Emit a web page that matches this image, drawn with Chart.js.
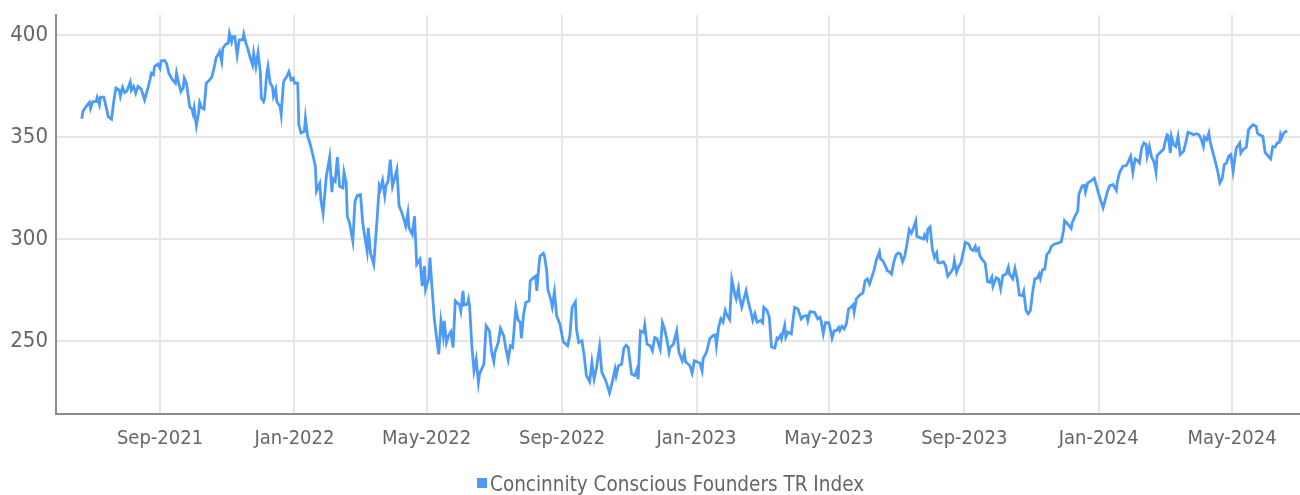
<!DOCTYPE html>
<html>
<head>
<meta charset="utf-8">
<script src="https://cdn.jsdelivr.net/npm/chart.js@4.4.1/dist/chart.umd.min.js"></script>
<style>
  body { margin: 0; background: #fff; }
  #wrap { position: relative; width: 1300px; height: 495px; }
  #legendBox { position: absolute; left: 477px; top: 478px; width: 10px; height: 10px; }
  #legendText { position: absolute; left: 490px; top: 473px; line-height: 22px; font-size: 20.5px; color: #666;
    font-family: 'Liberation Sans Narrow', 'DejaVu Sans Condensed', Roboto, sans-serif; white-space: nowrap; }
</style>
</head>
<body>
<div id="wrap">
  <canvas id="chart" width="1300" height="495"></canvas>
  <span id="legendBox"></span>
  <span id="legendText"></span>
</div>
<script>
//-------------------Data-------------------
const startDate = '2021-06-01'; // day 0 of the dayOffsets below
const seriesName = 'Concinnity Conscious Founders TR Index';

// days since startDate
const dayOffsets = [
  21, 22, 25, 28, 29, 31, 34, 35, 37, 38, 41, 43, 45, 48, 50, 52, 55, 56, 58, 60,
  62, 65, 66, 68, 70, 72, 75, 78, 81, 83, 84, 86, 87, 90, 92, 93, 96, 98, 100, 103,
  106, 107, 109, 111, 113, 114, 116, 119, 121, 122, 123, 125, 127, 128, 130, 132, 134, 137, 139, 141,
  143, 145, 146, 148, 149, 152, 154, 155, 157, 158, 160, 162, 164, 167, 168, 170, 172, 174, 176, 177,
  179, 181, 183, 184, 186, 187, 189, 190, 192, 194, 195, 197, 198, 201, 202, 204, 205, 207, 209, 211,
  213, 214, 217, 218, 220, 223, 224, 226, 228, 231, 233, 234, 237, 238, 240, 243, 246, 248, 249, 251,
  253, 255, 258, 259, 261, 262, 264, 267, 269, 271, 274, 276, 278, 280, 281, 283, 286, 289, 291, 292,
  294, 296, 297, 299, 301, 303, 305, 307, 309, 311, 313, 315, 317, 318, 321, 323, 325, 328, 330, 332,
  333, 336, 337, 339, 341, 343, 345, 347, 349, 350, 352, 354, 356, 358, 360, 364, 365, 367, 368, 371,
  372, 373, 375, 377, 379, 381, 382, 386, 388, 391, 393, 395, 396, 399, 401, 404, 406, 408, 410, 412,
  415, 417, 419, 420, 422, 424, 427, 428, 431, 433, 434, 436, 437, 440, 441, 443, 444, 447, 448, 450,
  452, 455, 458, 462, 464, 466, 469, 470, 472, 475, 477, 479, 482, 484, 486, 488, 491, 493, 496, 498,
  500, 503, 505, 506, 508, 511, 513, 515, 517, 520, 523, 525, 526, 528, 531, 532, 534, 537, 539, 541,
  543, 546, 548, 550, 552, 554, 555, 558, 561, 563, 566, 568, 569, 573, 575, 577, 582, 584, 585, 588,
  591, 594, 596, 597, 599, 601, 603, 605, 606, 609, 611, 614, 615, 617, 618, 620, 622, 624, 626, 628,
  630, 632, 634, 637, 639, 640, 643, 645, 647, 650, 652, 653, 655, 656, 659, 660, 662, 665, 668, 671,
  674, 676, 679, 680, 682, 685, 686, 689, 691, 692, 694, 696, 699, 701, 702, 704, 706, 708, 709, 711,
  713, 715, 717, 719, 721, 722, 724, 727, 730, 732, 734, 736, 738, 740, 742, 745, 746, 748, 751, 752,
  754, 756, 758, 760, 762, 764, 766, 768, 770, 772, 774, 776, 778, 779, 782, 785, 786, 788, 789, 791,
  793, 795, 797, 798, 800, 803, 805, 807, 810, 812, 813, 815, 817, 819, 821, 823, 826, 828, 830, 832,
  833, 835, 836, 838, 841, 843, 845, 847, 848, 851, 853, 855, 857, 860, 862, 863, 866, 868, 870, 872,
  875, 876, 878, 880, 882, 884, 886, 888, 890, 891, 893, 895, 897, 899, 901, 904, 907, 910, 912, 913,
  916, 919, 920, 922, 925, 926, 929, 931, 932, 934, 937, 940, 942, 944, 948, 950, 952, 954, 957, 960,
  961, 963, 966, 969, 971, 973, 975, 977, 979, 981, 983, 985, 987, 988, 990, 992, 994, 995, 996, 997,
  1000, 1003, 1004, 1006, 1007, 1009, 1010, 1012, 1014, 1016, 1018, 1021, 1023, 1025, 1027, 1030, 1033, 1035, 1037, 1039,
  1040, 1042, 1044, 1045, 1047, 1050, 1052, 1054, 1056, 1058, 1060, 1062, 1064, 1066, 1068, 1069, 1072, 1073, 1075, 1078,
  1080, 1082, 1084, 1087, 1088, 1090, 1093, 1095, 1098, 1100, 1102, 1104, 1106, 1108, 1109, 1110, 1112, 1115
];

const indexValues = [
  359.0, 362.5, 365.0, 367.0, 364.0, 367.4, 367.4, 369.4, 365.8, 369.5, 369.5, 365.0, 360.0, 358.8, 367.4, 374.0, 373.0, 370.0, 374.3, 371.8,
  372.6, 377.0, 373.0, 374.8, 371.5, 374.8, 373.5, 368.2, 374.0, 378.3, 381.3, 380.5, 384.5, 385.7, 383.7, 387.3, 387.6, 386.0, 381.3, 378.3,
  376.4, 381.3, 376.4, 372.3, 374.0, 378.8, 376.4, 364.7, 363.7, 361.4, 364.3, 355.5, 361.7, 367.0, 364.2, 363.7, 376.4, 378.0, 379.3, 383.7,
  389.0, 390.7, 391.9, 387.0, 393.5, 395.6, 396.0, 400.8, 396.7, 399.2, 399.2, 390.2, 397.6, 397.6, 400.5, 396.0, 392.7, 388.6, 385.3, 391.0,
  384.5, 391.4, 382.0, 369.0, 367.4, 369.0, 381.3, 384.5, 376.4, 374.8, 370.0, 373.3, 367.4, 365.0, 361.0, 376.4, 378.0, 379.6, 382.0, 378.0,
  378.8, 376.4, 376.4, 356.0, 352.0, 352.8, 359.3, 350.3, 347.1, 340.6, 335.7, 323.5, 327.2, 319.4, 312.5, 330.8, 340.2, 323.0, 329.5, 328.3,
  340.2, 325.9, 325.1, 332.7, 327.5, 311.2, 308.0, 299.0, 318.6, 321.3, 321.8, 308.0, 300.7, 294.1, 305.5, 293.3, 287.6, 309.6, 325.9, 324.3,
  328.8, 321.3, 325.9, 328.3, 338.9, 325.9, 330.0, 334.0, 316.4, 313.7, 310.4, 306.4, 312.9, 305.5, 302.3, 311.2, 287.6, 290.1, 277.0, 286.8,
  275.4, 281.1, 290.9, 275.4, 260.7, 251.8, 243.6, 259.9, 252.6, 259.9, 249.3, 252.9, 254.6, 246.9, 269.7, 267.6, 264.8, 274.6, 267.6, 268.1,
  270.5, 267.3, 247.8, 235.5, 241.2, 229.8, 233.9, 238.8, 257.5, 255.0, 244.5, 239.9, 244.5, 249.3, 256.2, 252.6, 246.1, 240.9, 247.7, 246.9,
  266.0, 260.4, 259.1, 251.3, 263.2, 268.9, 269.7, 279.5, 281.1, 281.9, 274.6, 287.6, 291.7, 293.0, 291.7, 284.4, 275.4, 269.7, 266.9, 274.1,
  262.4, 258.3, 249.7, 247.7, 252.9, 266.4, 269.2, 255.9, 249.3, 250.2, 242.8, 233.1, 230.1, 239.6, 231.4, 236.3, 247.4, 234.7, 231.4, 228.2,
  224.6, 231.1, 236.3, 233.1, 237.9, 238.8, 246.4, 248.0, 246.9, 233.9, 233.1, 236.3, 231.4, 255.0, 254.2, 257.8, 248.5, 247.7, 245.3, 251.8,
  251.3, 246.1, 259.1, 255.9, 251.0, 244.5, 246.9, 248.5, 255.0, 244.5, 240.4, 244.1, 239.9, 237.9, 234.4, 240.4, 239.3, 235.5, 241.5, 244.5,
  251.1, 252.8, 253.1, 247.9, 256.8, 260.9, 259.3, 265.0, 263.4, 260.6, 280.1, 272.3, 270.7, 275.9, 271.5, 266.6, 270.7, 274.6, 269.1, 265.0,
  260.1, 263.4, 259.3, 260.1, 259.0, 266.6, 265.0, 261.7, 247.1, 246.6, 251.5, 251.1, 252.8, 251.1, 257.7, 252.0, 254.4, 253.6, 266.6, 265.8,
  260.9, 262.2, 262.5, 260.1, 264.5, 264.2, 264.2, 260.9, 261.7, 260.1, 253.6, 259.0, 259.0, 254.4, 251.5, 255.2, 255.2, 256.8, 255.2, 257.3,
  256.0, 258.5, 265.8, 266.6, 267.8, 264.2, 270.7, 272.6, 273.6, 279.6, 280.5, 278.0, 281.3, 284.5, 289.4, 293.8, 290.2, 289.4, 286.2, 284.5,
  284.0, 282.9, 288.6, 292.2, 293.2, 292.7, 288.9, 291.9, 297.6, 304.6, 302.9, 305.7, 308.8, 301.3, 300.7, 300.0, 302.0, 300.0, 304.9, 306.0,
  295.1, 291.0, 293.2, 288.6, 288.3, 288.9, 287.0, 281.8, 284.0, 285.7, 289.4, 283.7, 286.6, 288.3, 293.5, 298.4, 297.6, 295.1, 294.3, 296.4,
  294.3, 295.4, 291.9, 290.2, 288.3, 279.2, 278.8, 281.3, 276.9, 281.1, 280.5, 275.6, 282.1, 282.9, 286.2, 282.9, 280.5, 285.7, 280.5, 272.6,
  272.3, 274.3, 265.0, 263.4, 265.0, 273.9, 280.5, 280.8, 282.9, 280.8, 285.0, 285.3, 292.7, 293.5, 296.4, 297.6, 298.0, 298.7, 304.1, 309.0,
  307.3, 305.2, 308.1, 310.6, 313.8, 322.0, 326.1, 326.4, 323.1, 327.4, 328.5, 329.8, 326.1, 322.0, 315.3, 319.4, 323.5, 326.2, 326.7, 323.9,
  328.3, 332.7, 335.7, 336.0, 338.1, 340.6, 332.7, 339.3, 338.6, 337.3, 344.6, 347.1, 346.3, 340.6, 345.4, 340.2, 338.1, 335.7, 332.7, 340.9,
  342.5, 344.1, 347.1, 351.1, 350.7, 342.2, 350.3, 346.3, 345.4, 350.3, 341.4, 343.0, 347.1, 352.3, 352.0, 351.1, 351.6, 351.1, 349.0, 345.4,
  350.0, 348.7, 352.0, 347.9, 343.8, 337.6, 333.2, 327.5, 329.5, 336.5, 337.3, 340.6, 341.4, 333.2, 341.4, 344.6, 347.1, 342.2, 343.8, 345.1,
  353.6, 354.9, 356.0, 355.2, 352.0, 351.1, 350.3, 342.5, 340.6, 339.3, 345.4, 345.1, 347.1, 347.4, 351.1, 349.5, 352.0, 353.1
];

const tickDates = ['2021-09-01', '2022-01-01', '2022-05-01', '2022-09-01', '2023-01-01', '2023-05-01', '2023-09-01', '2024-01-01', '2024-05-01'];
const tickLabels = ['Sep-2021', 'Jan-2022', 'May-2022', 'Sep-2022', 'Jan-2023', 'May-2023', 'Sep-2023', 'Jan-2024', 'May-2024'];
const yTicks = [250, 300, 350, 400];

//-------------------Setup-------------------
const lineColor = '#4c9bf8';
const textColor = '#666666';
const fontFamily = "'Liberation Sans Narrow', 'DejaVu Sans Condensed', Roboto, sans-serif";

function dayNumber(s) {
  return Math.round((Date.parse(s) - Date.parse(startDate)) / 86400000);
}

const tickDays = tickDates.map(dayNumber);
const points = dayOffsets.map((d, i) => ({ x: d, y: indexValues[i] }));

document.getElementById('legendBox').style.background = lineColor;
document.getElementById('legendText').textContent = seriesName;

Chart.defaults.font.family = fontFamily;
Chart.defaults.color = textColor;

const ctx = document.getElementById('chart').getContext('2d');

const chart = new Chart(ctx, {
  type: 'line',
  data: {
    datasets: [{
      label: seriesName,
      data: points,
      borderColor: lineColor,
      backgroundColor: lineColor,
      borderWidth: 2.8,
      pointRadius: 0,
      tension: 0,
      fill: false
    }]
  },
  options: {
    responsive: false,
    animation: false,
    devicePixelRatio: 1,
    layout: { padding: { top: 15, right: 0, bottom: 0, left: 0 } },
    plugins: {
      legend: { display: false },
      tooltip: { enabled: false }
    },
    scales: {
      x: {
        type: 'linear',
        min: -2.4,
        max: 1126.7,
        afterBuildTicks: (scale) => { scale.ticks = tickDays.map(v => ({ value: v })); },
        afterFit: (scale) => {
          scale.height = 81;
          scale.paddingLeft = 0;
          scale.paddingRight = 0;
        },
        ticks: {
          autoSkip: false,
          maxRotation: 0,
          padding: 13,
          font: { size: 20 },
          callback: (value, index) => tickLabels[index]
        },
        grid: { color: '#e6e6e6', lineWidth: 2, drawTicks: false },
        border: { color: '#8c8c8c', width: 2 }
      },
      y: {
        min: 214.3,
        max: 409.8,
        afterBuildTicks: (scale) => { scale.ticks = yTicks.map(v => ({ value: v })); },
        afterFit: (scale) => {
          scale.width = 56;
          scale.paddingTop = 0;
          scale.paddingBottom = 0;
        },
        ticks: { padding: 8, font: { size: 22 } },
        grid: { color: '#e6e6e6', lineWidth: 2, drawTicks: false },
        border: { color: '#8c8c8c', width: 2 }
      }
    }
  }
});
</script>
</body>
</html>
